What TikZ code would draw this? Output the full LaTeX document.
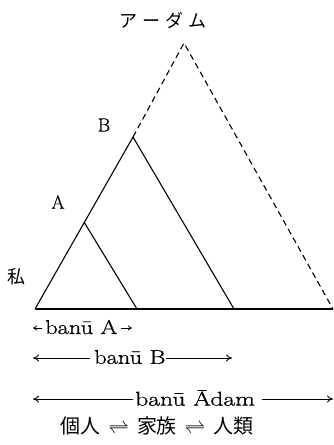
\documentclass[tikz,border=0pt]{standalone}
\usepackage{fontspec}
\newfontfamily\cjk{Noto Sans CJK JP}
\newfontfamily\heavy[FakeBold=0.8]{Latin Modern Roman}
\usetikzlibrary{arrows.meta}
\newcommand{\wide}[1]{\scalebox{1.22}[1]{#1}}
\tikzset{
  solidline/.style={line width=1.1pt},
  dashline/.style={line width=1.1pt, dash pattern=on 6pt off 4pt},
  lbl/.style={inner sep=0pt, font=\heavy\fontsize{19}{21}\selectfont},
  jlbl/.style={inner sep=0pt, font=\cjk\fontsize{18}{20}\selectfont},
  banu/.style={inner sep=0pt, font=\heavy\fontsize{20}{22}\selectfont},
  span/.style={line width=0.8pt, -{To[length=6pt,width=7pt]}},
  smallspan/.style={line width=0.8pt, -{To[length=4pt,width=5pt]}},
}
\begin{document}
\begin{tikzpicture}[x=1pt,y=-1pt]
\useasboundingbox (0,0) rectangle (334,445);
% triangle points
\coordinate (L) at (35,309);
\coordinate (R) at (333,309);
\coordinate (top) at (184,43);
\coordinate (Bt) at (133,137);
\coordinate (Bb) at (234,309);
\coordinate (At) at (84,222);
\coordinate (Ab) at (137,309);
% edges
\draw[solidline] (L) -- (R);
\draw[solidline] (L) -- (Bt);
\draw[dashline] (Bt) -- (top) -- (R);
\draw[solidline] (Bt) -- (Bb);
\draw[solidline] (At) -- (Ab);
% labels
\node[jlbl] (adam) at (163,20) {ア\hspace{5pt}ー\hspace{5pt}ダ\hspace{5pt}ム};
\node[lbl] (labB) at (104,125) {B};
\node[lbl] (labA) at (58,202) {A};
\node[jlbl] (me) at (17,277) {私};
% row 1
\coordinate (r1l) at (33,328);
\coordinate (r1r) at (132,328);
\node[banu, anchor=west] (banuA) at (45,327) {\wide{banū A}};
\draw[smallspan] (banuA.west) ++(-3,1) -- (r1l);
\draw[smallspan] (banuA.east) ++(3,1) -- (r1r);
% row 2
\coordinate (r2l) at (33,358);
\coordinate (r2r) at (232,358);
\node[banu, anchor=west] (banuB) at (94,357) {\wide{banū B}};
\draw[span] (banuB.west) ++(-4,1) -- (r2l);
\draw[span] (banuB.east) ++(0,1) -- (r2r);
% row 3
\coordinate (r3l) at (33,399);
\coordinate (r3r) at (333,399);
\node[banu, anchor=west] (banuAdam) at (135,398) {\scalebox{1.28}[1]{banū Ādam}};
\draw[span] (banuAdam.west) ++(-2,1) -- (r3l);
\draw[span] (banuAdam.east) ++(7,1) -- (r3r);
% row 4
\node[jlbl, font=\cjk\fontsize{20}{22}\selectfont] (row4) at (157,426) {個人\hspace{8pt}$\rightleftharpoons$\hspace{8pt}家族\hspace{8pt}$\rightleftharpoons$\hspace{8pt}人類};
\end{tikzpicture}
\end{document}
